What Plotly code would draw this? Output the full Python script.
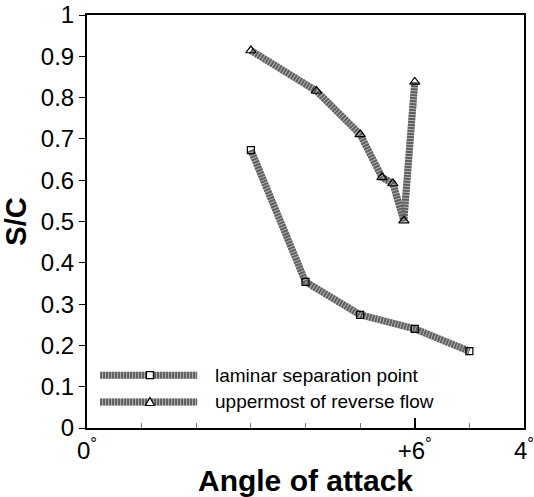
import plotly.graph_objects as go

# Data
angle_lam = [3.0, 4.0, 5.0, 6.0, 7.0]
sc_lam = [0.673, 0.354, 0.274, 0.240, 0.186]

angle_rev = [3.0, 4.2, 5.0, 5.4, 5.6, 5.8, 6.0]
sc_rev = [0.914, 0.816, 0.711, 0.607, 0.592, 0.502, 0.838]

series_names = ["laminar separation point", "uppermost of reverse flow"]
x_tickvals = [0, 6, 8]
x_ticktext = ["0<sup>°</sup>", "+6<sup>°</sup>", "4<sup>°</sup>"]

FONT = "Arial, 'Liberation Sans', sans-serif"
BASE = "#b4b4b4"
STRIPE = "#5e5e5e"
LW = 7

fig = go.Figure()
for xs, ys, sym, msize in [(angle_lam, sc_lam, "square-open", 7),
                           (angle_rev, sc_rev, "triangle-up-open", 9)]:
    fig.add_trace(go.Scatter(x=xs, y=ys, mode="lines", showlegend=False,
                             line=dict(color=BASE, width=LW)))
    fig.add_trace(go.Scatter(x=xs, y=ys, mode="lines", showlegend=False,
                             line=dict(color=STRIPE, width=LW, dash="2px,1px")))
    fig.add_trace(go.Scatter(x=xs, y=ys, mode="markers", showlegend=False,
                             marker=dict(symbol=sym, size=msize, color="black",
                                         line=dict(width=1.2, color="black"))))

# custom legend (paper coordinates)
shapes = []
annotations = []
leg_y = [0.128, 0.063]
for i, name in enumerate(series_names):
    y = leg_y[i]
    shapes.append(dict(type="line", xref="paper", yref="paper", x0=0.03, x1=0.252,
                       y0=y, y1=y, line=dict(color=BASE, width=LW)))
    shapes.append(dict(type="line", xref="paper", yref="paper", x0=0.03, x1=0.252,
                       y0=y, y1=y, line=dict(color=STRIPE, width=LW, dash="2px,1px")))
    if i == 0:
        shapes.append(dict(type="rect", xref="paper", yref="paper",
                           xsizemode="pixel", ysizemode="pixel",
                           xanchor=0.144, yanchor=y, x0=-3.5, x1=3.5, y0=-3.5, y1=3.5,
                           fillcolor="white", line=dict(color="black", width=1.2)))
    else:
        shapes.append(dict(type="path", xref="paper", yref="paper",
                           xsizemode="pixel", ysizemode="pixel",
                           xanchor=0.144, yanchor=y,
                           path="M -4.5 -3.5 L 4.5 -3.5 L 0 4.5 Z",
                           fillcolor="white", line=dict(color="black", width=1.2)))
    annotations.append(dict(xref="paper", yref="paper", x=0.288, y=y, xanchor="left",
                            yanchor="middle", text=name, showarrow=False,
                            font=dict(family=FONT, size=19, color="black")))

fig.update_layout(
    width=534, height=497, autosize=False,
    margin=dict(l=87, r=10, t=15, b=69, autoexpand=False),
    plot_bgcolor="white", paper_bgcolor="white",
    shapes=shapes, annotations=annotations,
    font=dict(family=FONT, color="black"),
    xaxis=dict(range=[0, 8], tickvals=x_tickvals, ticktext=x_ticktext,
               automargin=False, ticklabeloverflow="allow",
               ticks="inside", ticklen=10, tickwidth=2, tickcolor="black",
               minor=dict(dtick=1, ticks="inside", ticklen=5, tickwidth=1, tickcolor="#777"),
               showline=True, linecolor="black", linewidth=2, mirror=True,
               showgrid=False, zeroline=False,
               tickfont=dict(family=FONT, size=24),
               title=dict(text="<b>Angle of attack</b>", font=dict(family=FONT, size=30),
                          standoff=6)),
    yaxis=dict(range=[0, 1], dtick=0.1, ticks="outside", ticklen=6, tickwidth=1,
               tickcolor="black", automargin=False, ticklabeloverflow="allow",
               showline=True, linecolor="black", linewidth=2, mirror=True,
               showgrid=False, zeroline=False,
               tickfont=dict(family=FONT, size=24),
               title=dict(text="<b>S/C</b>", font=dict(family=FONT, size=29),
                          standoff=6)),
)

fig.write_html("out.html")
